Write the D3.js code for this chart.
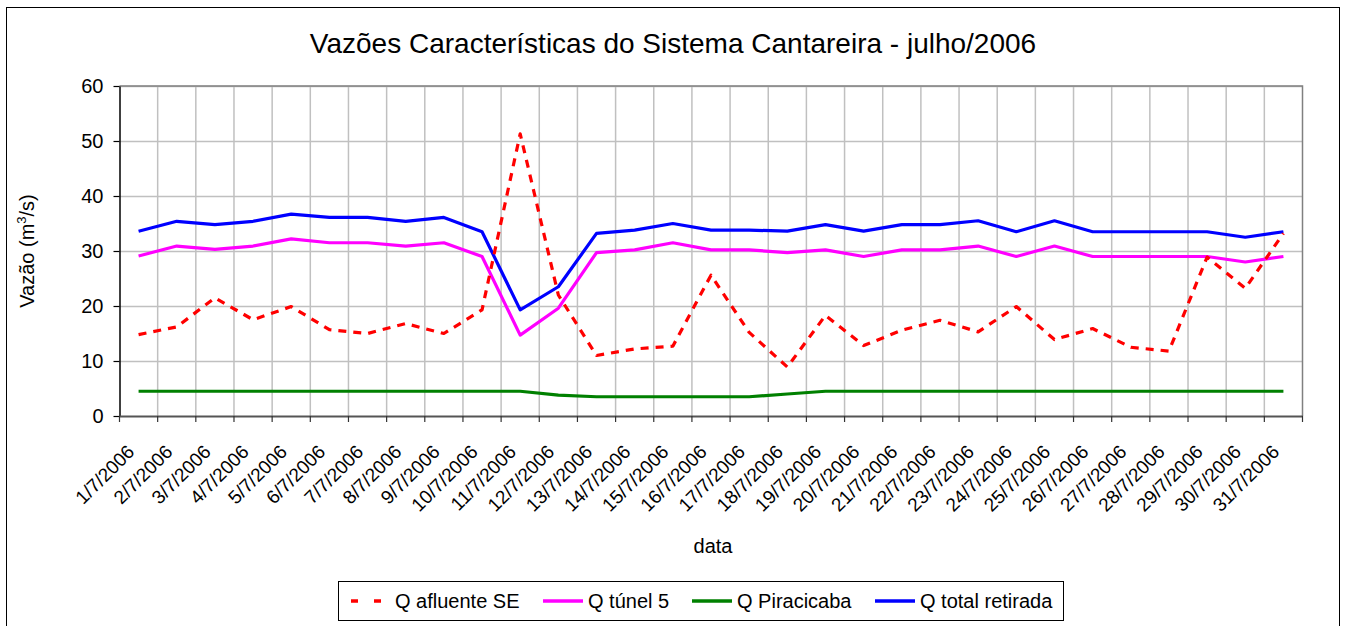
<!DOCTYPE html>
<html>
<head>
<meta charset="utf-8">
<script src="https://cdn.jsdelivr.net/npm/d3@7"></script>
<style>
    body { margin: 0; background: #fff; }
    svg { display: block; font-family: Arial, "Liberation Sans", sans-serif; }
</style>
</head>
<body>
<div id="chart"></div>
<script>
    var dates = ["1/7/2006", "2/7/2006", "3/7/2006", "4/7/2006", "5/7/2006", "6/7/2006", "7/7/2006", "8/7/2006",
        "9/7/2006", "10/7/2006", "11/7/2006", "12/7/2006", "13/7/2006", "14/7/2006", "15/7/2006", "16/7/2006",
        "17/7/2006", "18/7/2006", "19/7/2006", "20/7/2006", "21/7/2006", "22/7/2006", "23/7/2006", "24/7/2006",
        "25/7/2006", "26/7/2006", "27/7/2006", "28/7/2006", "29/7/2006", "30/7/2006", "31/7/2006"];

    var qAfluente = [14.8, 16.2, 21.5, 17.5, 19.9, 15.7, 15.0, 16.8, 15.0, 19.3, 51.3, 22.0, 11.0, 12.2, 12.7, 25.6,
        15.2, 8.9, 18.3, 12.8, 15.6, 17.4, 15.3, 19.9, 13.9, 15.9, 12.5, 11.8, 28.9, 23.2, 33.2];
    var qTunel = [29.1, 30.9, 30.3, 30.9, 32.2, 31.5, 31.5, 30.9, 31.5, 29.0, 14.7, 19.6, 29.7, 30.2, 31.5, 30.2,
        30.2, 29.7, 30.2, 29.0, 30.2, 30.2, 30.9, 29.0, 30.9, 29.0, 29.0, 29.0, 29.0, 28.0, 29.0];
    var qPiracicaba = [4.5, 4.5, 4.5, 4.5, 4.5, 4.5, 4.5, 4.5, 4.5, 4.5, 4.5, 3.8, 3.5, 3.5, 3.5, 3.5,
        3.5, 4.0, 4.5, 4.5, 4.5, 4.5, 4.5, 4.5, 4.5, 4.5, 4.5, 4.5, 4.5, 4.5, 4.5];
    var qTotal = [33.6, 35.4, 34.8, 35.4, 36.7, 36.1, 36.1, 35.4, 36.1, 33.5, 19.3, 23.5, 33.2, 33.8, 35.0, 33.8,
        33.8, 33.6, 34.8, 33.6, 34.8, 34.8, 35.5, 33.5, 35.5, 33.5, 33.5, 33.5, 33.5, 32.5, 33.5];

    var seriesNames = ["Q afluente SE", "Q túnel 5", "Q Piracicaba", "Q total retirada"];
    var seriesColors = ["#ff0000", "#ff00ff", "#008000", "#0000ff"];
    var yTicks = [0, 10, 20, 30, 40, 50, 60];

    var width = 1349;
    var height = 626;
    var plot = { left: 119.5, right: 1302.5, top: 86, bottom: 416 };

    var svg = d3.select("#chart")
        .append("svg")
        .attr("width", width)
        .attr("height", height);

    // outer chart frame
    svg.append("rect")
        .attr("x", 6.5).attr("y", 7.5)
        .attr("width", 1333).attr("height", 640)
        .attr("fill", "none")
        .attr("stroke", "#000")
        .attr("stroke-width", 1);

    var x = d3.scaleBand()
        .domain(dates)
        .range([plot.left, plot.right]);

    var y = d3.scaleLinear()
        .domain([0, 60])
        .range([plot.bottom, plot.top]);

    // grid
    svg.append("g")
        .selectAll("line")
        .data(yTicks.slice(1))
        .enter()
        .append("line")
        .attr("x1", plot.left).attr("x2", plot.right)
        .attr("y1", function (d) { return Math.round(y(d)) + 0.5; })
        .attr("y2", function (d) { return Math.round(y(d)) + 0.5; })
        .style("stroke", "#c0c0c0")
        .style("stroke-width", 1.5);

    svg.append("g")
        .selectAll("line")
        .data(dates.slice(1))
        .enter()
        .append("line")
        .attr("x1", function (d) { return x(d); })
        .attr("x2", function (d) { return x(d); })
        .attr("y1", plot.top).attr("y2", plot.bottom)
        .style("stroke", "#c0c0c0")
        .style("stroke-width", 1.5);

    // plot border top / right
    svg.append("path")
        .attr("d", "M" + plot.left + "," + plot.top + "H" + plot.right + "V" + plot.bottom)
        .attr("fill", "none")
        .style("stroke", "#808080")
        .style("stroke-width", 1.5);

    // y axis
    var yAxis = svg.append("g")
        .attr("transform", "translate(" + plot.left + ",0)")
        .call(d3.axisLeft(y).tickValues(yTicks).tickSize(6).tickSizeOuter(0).tickPadding(10));
    yAxis.select(".domain").style("stroke", "#000").style("stroke-width", 1.5);
    yAxis.selectAll(".tick line").style("stroke", "#000").style("stroke-width", 1.2);
    yAxis.selectAll(".tick text")
        .attr("font-size", 20)
        .attr("font-family", "Arial, 'Liberation Sans', sans-serif")
        .attr("fill", "#000");

    // x axis
    var bw = x.bandwidth();
    var xAxis = svg.append("g")
        .attr("transform", "translate(0," + plot.bottom + ")")
        .call(d3.axisBottom(x).tickSize(6).tickSizeOuter(0));
    xAxis.select(".domain").style("stroke", "#555").style("stroke-width", 2);
    xAxis.selectAll(".tick line")
        .attr("x1", -bw / 2).attr("x2", -bw / 2)
        .style("stroke", "#333").style("stroke-width", 1.2);
    xAxis.append("line")
        .attr("x1", plot.right).attr("x2", plot.right)
        .attr("y1", 0).attr("y2", 6)
        .style("stroke", "#333").style("stroke-width", 1.2);
    xAxis.selectAll(".tick text")
        .attr("y", null).attr("dy", null)
        .attr("transform", "translate(-3,37) rotate(-45)")
        .attr("text-anchor", "end")
        .attr("font-size", 19)
        .attr("font-family", "Arial, 'Liberation Sans', sans-serif")
        .attr("fill", "#000");

    // series lines
    var allSeries = [qAfluente, qTunel, qPiracicaba, qTotal];
    var line = d3.line()
        .x(function (d, i) { return x(dates[i]) + bw / 2; })
        .y(function (d) { return y(d); });

    [2, 1, 3, 0].forEach(function (k) {
        svg.append("path")
            .datum(allSeries[k])
            .attr("d", line)
            .attr("fill", "none")
            .style("stroke", seriesColors[k])
            .style("stroke-width", 3.2)
            .style("stroke-linejoin", "round")
            .style("stroke-dasharray", k === 0 ? "8,7" : null);
    });

    // titles
    svg.append("text")
        .attr("x", 673).attr("y", 53)
        .attr("text-anchor", "middle")
        .attr("font-size", 28)
        .text("Vazões Características do Sistema Cantareira - julho/2006");

    svg.append("text")
        .attr("x", 713).attr("y", 553)
        .attr("text-anchor", "middle")
        .attr("font-size", 20)
        .text("data");

    var yTitle = svg.append("text")
        .attr("transform", "translate(34," + ((plot.top + plot.bottom) / 2) + ") rotate(-90)")
        .attr("text-anchor", "middle")
        .attr("font-size", 20);
    yTitle.append("tspan").text("Vazão (m");
    yTitle.append("tspan").attr("dy", -8).attr("font-size", 13).text("3");
    yTitle.append("tspan").attr("dy", 8).text("/s)");

    // legend
    var legend = svg.append("g");
    legend.append("rect")
        .attr("x", 338.5).attr("y", 581.5)
        .attr("width", 725).attr("height", 39)
        .attr("fill", "#fff")
        .attr("stroke", "#000")
        .attr("stroke-width", 1);

    var legendX = [351, 543, 692, 875];
    var legendY = 601;
    seriesNames.forEach(function (name, k) {
        legend.append("line")
            .attr("x1", legendX[k]).attr("x2", legendX[k] + (k === 0 ? 30 : 40))
            .attr("y1", legendY).attr("y2", legendY)
            .style("stroke", seriesColors[k])
            .style("stroke-width", 3.5)
            .style("stroke-dasharray", k === 0 ? "7,16" : null);
        legend.append("text")
            .attr("x", k === 0 ? legendX[k] + 44 : legendX[k] + 45)
            .attr("y", legendY + 7)
            .attr("font-size", 20)
            .text(name);
    });
</script>
</body>
</html>
